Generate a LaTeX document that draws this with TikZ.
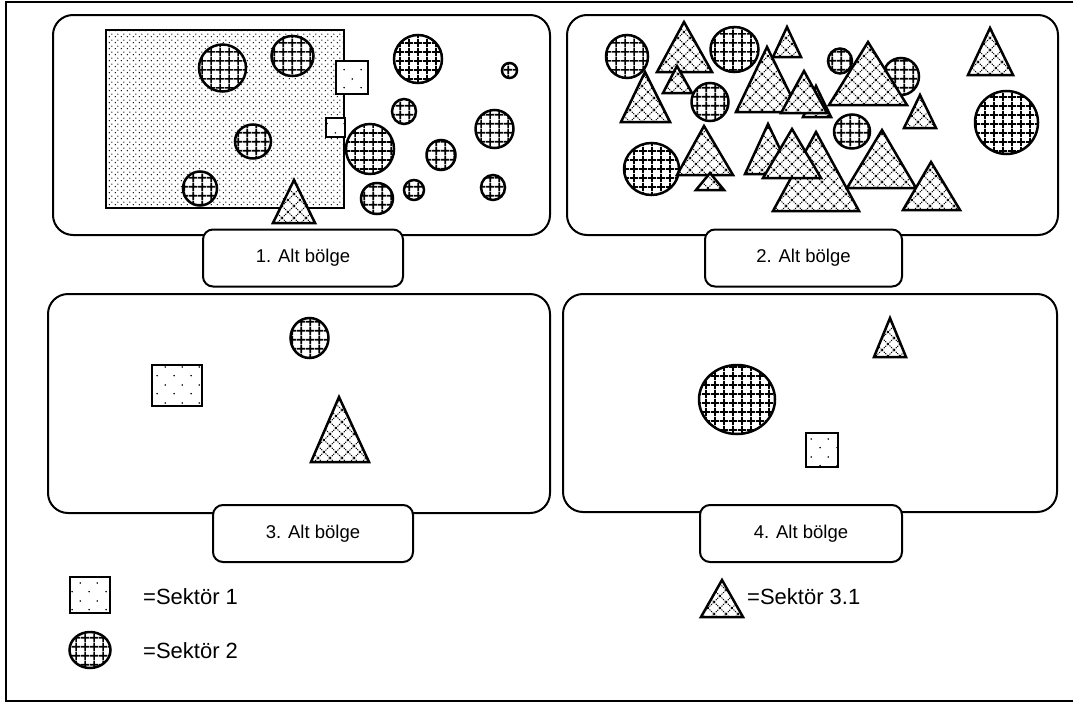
\documentclass[tikz,border=0pt]{standalone}
\usepackage{fontspec}
\setmainfont{Liberation Sans}
\usetikzlibrary{patterns}

% fill patterns for the three sectors
\pgfdeclarepatternformonly{sekgrid}{\pgfpointorigin}{\pgfpoint{9pt}{9pt}}{\pgfpoint{9pt}{9pt}}{%
  \pgfsetlinewidth{1.9pt}%
  \pgfpathmoveto{\pgfpoint{0pt}{4.5pt}}\pgfpathlineto{\pgfpoint{9pt}{4.5pt}}%
  \pgfpathmoveto{\pgfpoint{4.5pt}{0pt}}\pgfpathlineto{\pgfpoint{4.5pt}{9pt}}%
  \pgfusepath{stroke}}
\pgfdeclarepatternformonly{sekcross}{\pgfpoint{-1pt}{-1pt}}{\pgfpoint{13pt}{13pt}}{\pgfpoint{12pt}{12pt}}{%
  \pgfsetlinewidth{0.9pt}%
  \pgfsetdash{{1.2pt}{1pt}}{0pt}%
  \pgfpathmoveto{\pgfpoint{0pt}{0pt}}\pgfpathlineto{\pgfpoint{12pt}{12pt}}%
  \pgfpathmoveto{\pgfpoint{0pt}{12pt}}\pgfpathlineto{\pgfpoint{12pt}{0pt}}%
  \pgfusepath{stroke}}
\pgfdeclarepatternformonly{sekdots}{\pgfpointorigin}{\pgfpoint{17pt}{18pt}}{\pgfpoint{17pt}{18pt}}{%
  \pgfpathcircle{\pgfpoint{4.25pt}{4.5pt}}{0.9pt}%
  \pgfpathcircle{\pgfpoint{12.75pt}{13.5pt}}{0.9pt}%
  \pgfusepath{fill}}
\pgfdeclarepatternformonly{sekdense}{\pgfpointorigin}{\pgfpoint{6pt}{6pt}}{\pgfpoint{6pt}{6pt}}{%
  \pgfpathcircle{\pgfpoint{1.5pt}{1.5pt}}{0.85pt}%
  \pgfpathcircle{\pgfpoint{4.5pt}{4.5pt}}{0.85pt}%
  \pgfusepath{fill}}

\begin{document}
\begin{tikzpicture}[
    x=1pt, y=-1pt,
    panel/.style={
        draw, line width=2pt,
        rounded corners=20pt
    },
    tag/.style={
        draw, line width=2pt, fill=white,
        rounded corners=10pt,
        minimum width=200pt,
        minimum height=57pt,
        font=\fontsize{18.5}{20}\selectfont
    },
    legtext/.style={
        anchor=west, inner sep=0pt,
        font=\fontsize{22}{24}\selectfont
    },
    sek1/.style={draw, line width=2pt, preaction={fill=white}, pattern=sekdots},
    sek1big/.style={draw, line width=2pt, preaction={fill=white}, pattern=sekdense},
    sek2/.style={draw, line width=2.5pt, preaction={fill=white}, pattern=sekgrid},
    sek31/.style={draw, line width=2.5pt, preaction={fill=white}, pattern=sekcross}
]
\useasboundingbox (0,0) rectangle (1073,704);

% outer frame
\draw[line width=2pt] (1080,2) -- (6,2) -- (6,701) -- (1080,701);

% wave panels
\node[panel, minimum width=497pt, minimum height=220pt]
    (p1) at (301.5,125) {};
\node[panel, minimum width=491pt, minimum height=220pt]
    (p2) at (812.5,125) {};
\node[panel, minimum width=502pt, minimum height=219pt]
    (p3) at (299,403.5) {};
\node[panel, minimum width=494pt, minimum height=218pt]
    (p4) at (810,403) {};

% 1. wave
\draw[sek1big] (106,30) rectangle (344,208);
\foreach \cx/\cy/\rx/\ry in {222.5/68/23.5/23.5, 292.5/56/21/20,
        253/141.5/18/17, 200/188.5/17/17, 418/59/24/24,
        509.5/70.5/7.5/7.5, 404/111.5/12/12.5, 494.5/129/19/19,
        370/149/24/25, 441/155/14.5/15, 377/198.5/16/15.5,
        414/190/10/10, 493/187.5/12/12.5}{
    \draw[sek2] (\cx,\cy) ellipse [x radius=\rx, y radius=\ry];
}
\draw[sek1] (336,61) rectangle (368,94);
\draw[sek1] (326,118) rectangle (345,137);
\draw[sek31] (294,180) -- (315,223) -- (273,223) -- cycle;

% 2. wave
\foreach \cx/\cy/\rx/\ry in {627/56.5/21/21.5, 734.5/49.5/24/22.5,
        710/102/18.5/19, 840/61/12/12.5, 901/76.5/18/18.5,
        852/131.5/18/17, 651.5/169/27.5/26, 1006.5/122.5/31.5/31.5}{
    \draw[sek2] (\cx,\cy) ellipse [x radius=\rx, y radius=\ry];
}
\foreach \ax/\ay/\bl/\br/\by in {684/22/657/712/72, 677/66/663/692/93,
        645/72/621/670/122, 787/27/773/801/57, 767/47/736/799/112,
        816/86/803/831/117, 804/71/781/827/113, 868/42/829/907/105,
        920/95/904/936/128, 990/28/968/1013/75, 704/126/677/733/175,
        710/173/696/724/190, 768/124/745/792/174, 816/132/773/859/211,
        792/129/763/821/178, 882/130/847/916/188, 931/162/903/960/210}{
    \draw[sek31] (\ax,\ay) -- (\br,\by) -- (\bl,\by) -- cycle;
}

% 3. wave
\draw[sek2] (309.5,338) ellipse [x radius=19, y radius=20];
\draw[sek1] (152,365) rectangle (202,406);
\draw[sek31] (339,397) -- (369,462) -- (311,462) -- cycle;

% 4. wave
\draw[sek2] (737,399.5) ellipse [x radius=38, y radius=34.5];
\draw[sek1] (806,433) rectangle (838,467);
\draw[sek31] (890,318) -- (906,357) -- (874,357) -- cycle;

% wave labels
\node[tag] (t1) at (303,258) {1. Alt bölge};
\node[tag, minimum width=197pt] (t2) at (803.5,258) {2. Alt bölge};
\node[tag] (t3) at (313,533.5) {3. Alt bölge};
\node[tag, minimum width=202pt] (t4) at (801,533.5) {4. Alt bölge};

% legend
\draw[sek1] (70,577) rectangle (110,613);
\node[legtext] (k1) at (143,597) {=Sektör 1};
\draw[sek2] (90,650) ellipse [x radius=20.5, y radius=18];
\node[legtext] (k2) at (143,651) {=Sektör 2};
\draw[sek31] (722,580) -- (743,617) -- (701,617) -- cycle;
\node[legtext] (k3) at (747,597) {=Sektör 3.1};
\end{tikzpicture}
\end{document}
